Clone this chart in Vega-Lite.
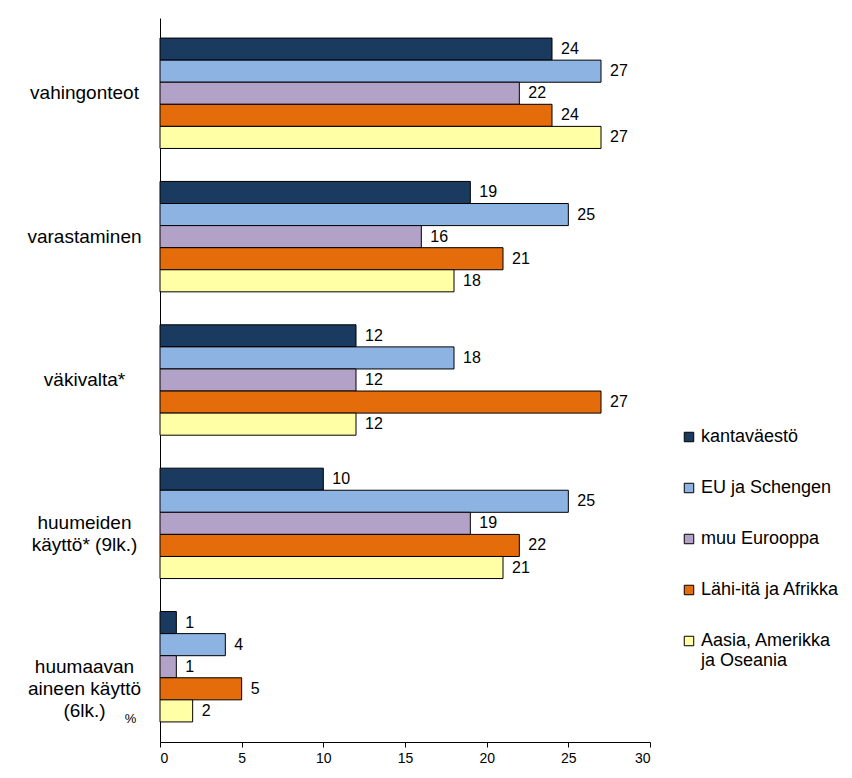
{
  "$schema": "https://vega.github.io/schema/vega-lite/v6.json",
  "width": 490,
  "height": 724,
  "autosize": {"type": "none"},
  "padding": {"left": 160, "top": 18, "right": 202, "bottom": 36},
  "background": "white",
  "config": {"view": {"stroke": null}, "font": "Liberation Sans"},
  "data": {
    "values": [
      {"cat": "vahingonteot", "grp": "kantaväestö", "v": 24},
      {"cat": "vahingonteot", "grp": "EU ja Schengen", "v": 27},
      {"cat": "vahingonteot", "grp": "muu Eurooppa", "v": 22},
      {"cat": "vahingonteot", "grp": "Lähi-itä ja Afrikka", "v": 24},
      {"cat": "vahingonteot", "grp": "Aasia, Amerikka|ja Oseania", "v": 27},
      {"cat": "varastaminen", "grp": "kantaväestö", "v": 19},
      {"cat": "varastaminen", "grp": "EU ja Schengen", "v": 25},
      {"cat": "varastaminen", "grp": "muu Eurooppa", "v": 16},
      {"cat": "varastaminen", "grp": "Lähi-itä ja Afrikka", "v": 21},
      {"cat": "varastaminen", "grp": "Aasia, Amerikka|ja Oseania", "v": 18},
      {"cat": "väkivalta*", "grp": "kantaväestö", "v": 12},
      {"cat": "väkivalta*", "grp": "EU ja Schengen", "v": 18},
      {"cat": "väkivalta*", "grp": "muu Eurooppa", "v": 12},
      {"cat": "väkivalta*", "grp": "Lähi-itä ja Afrikka", "v": 27},
      {"cat": "väkivalta*", "grp": "Aasia, Amerikka|ja Oseania", "v": 12},
      {"cat": "huumeiden|käyttö* (9lk.)", "grp": "kantaväestö", "v": 10},
      {"cat": "huumeiden|käyttö* (9lk.)", "grp": "EU ja Schengen", "v": 25},
      {"cat": "huumeiden|käyttö* (9lk.)", "grp": "muu Eurooppa", "v": 19},
      {"cat": "huumeiden|käyttö* (9lk.)", "grp": "Lähi-itä ja Afrikka", "v": 22},
      {"cat": "huumeiden|käyttö* (9lk.)", "grp": "Aasia, Amerikka|ja Oseania", "v": 21},
      {"cat": "huumaavan|aineen käyttö|(6lk.)", "grp": "kantaväestö", "v": 1},
      {"cat": "huumaavan|aineen käyttö|(6lk.)", "grp": "EU ja Schengen", "v": 4},
      {"cat": "huumaavan|aineen käyttö|(6lk.)", "grp": "muu Eurooppa", "v": 1},
      {"cat": "huumaavan|aineen käyttö|(6lk.)", "grp": "Lähi-itä ja Afrikka", "v": 5},
      {"cat": "huumaavan|aineen käyttö|(6lk.)", "grp": "Aasia, Amerikka|ja Oseania", "v": 2}
    ]
  },
  "encoding": {
    "y": {
      "field": "cat",
      "type": "nominal",
      "sort": null,
      "scale": {"paddingInner": 0.23, "paddingOuter": 0.14},
      "axis": {
        "title": "%",
        "titleAngle": 0,
        "titleFontSize": 13,
        "titleFontWeight": "normal",
        "titleColor": "black",
        "titleX": -30,
        "titleY": 700,
        "titleAlign": "center",
        "titleBaseline": "middle",
        "ticks": false,
        "domainColor": "black",
        "domainWidth": 1,
        "labelAlign": "center",
        "labelPadding": 76,
        "labelFontSize": 19,
        "labelColor": "black",
        "labelLineHeight": 22,
        "labelExpr": "split(datum.label, '|')"
      }
    },
    "yOffset": {
      "field": "grp",
      "type": "nominal",
      "sort": ["kantaväestö", "EU ja Schengen", "muu Eurooppa", "Lähi-itä ja Afrikka", "Aasia, Amerikka|ja Oseania"],
      "scale": {"paddingInner": 0, "paddingOuter": 0}
    },
    "x": {
      "field": "v",
      "type": "quantitative",
      "scale": {"domain": [0, 30]},
      "axis": {
        "title": null,
        "values": [0, 5, 10, 15, 20, 25, 30],
        "grid": false,
        "domainColor": "black",
        "tickColor": "black",
        "tickSize": 5,
        "labelFontSize": 14,
        "labelColor": "black",
        "labelPadding": 4
      }
    }
  },
  "layer": [
    {
      "mark": {"type": "bar", "stroke": "black", "strokeWidth": 1},
      "encoding": {
        "color": {
          "field": "grp",
          "type": "nominal",
          "sort": ["kantaväestö", "EU ja Schengen", "muu Eurooppa", "Lähi-itä ja Afrikka", "Aasia, Amerikka|ja Oseania"],
          "scale": {
            "domain": ["kantaväestö", "EU ja Schengen", "muu Eurooppa", "Lähi-itä ja Afrikka", "Aasia, Amerikka|ja Oseania"],
            "range": ["#1b3a5f", "#8db3e2", "#b3a2c7", "#e46c0a", "#ffffa6"]
          },
          "legend": {
            "title": null,
            "orient": "none",
            "legendX": 520,
            "legendY": 410,
            "symbolType": "square",
            "symbolSize": 90,
            "symbolStrokeColor": "black",
            "symbolStrokeWidth": 1,
            "labelFontSize": 18,
            "labelColor": "black",
            "labelExpr": "split(datum.label, '|')",
            "labelLineHeight": 22,
            "rowPadding": 33,
            "labelOffset": 3
          }
        }
      }
    },
    {
      "mark": {"type": "text", "align": "left", "baseline": "middle", "dx": 9, "fontSize": 16, "color": "black"},
      "encoding": {
        "text": {"field": "v", "type": "quantitative"}
      }
    }
  ]
}
